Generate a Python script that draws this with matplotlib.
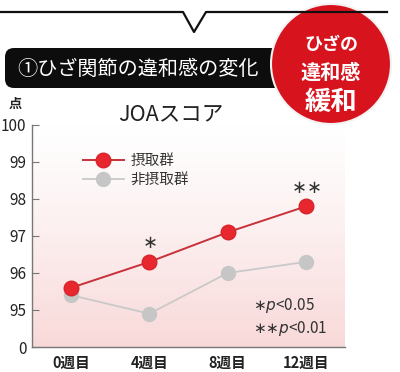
import numpy as np
import matplotlib
matplotlib.use("Agg")
import matplotlib.pyplot as plt
from matplotlib.patches import FancyBboxPatch, Circle

plt.rcParams['font.family'] = ['Noto Sans CJK JP', 'DejaVu Sans']

# ---- data ----
weeks = ["0週目", "4週目", "8週目", "12週目"]
intake = [95.6, 96.3, 97.1, 97.8]
no_intake = [95.4, 94.9, 96.0, 96.3]
ytick_vals = [0, 95, 96, 97, 98, 99, 100]
sig_marks = {1: "${\\ast}$", 3: "${\\ast}{\\ast}$"}


def brk(v):
    # broken axis: 0 sits one step below 95
    v = np.asarray(v, float)
    return np.where(v < 50, 0.0, v - 94.0)


fig = plt.figure(figsize=(4.0, 3.72), dpi=100)
ax = fig.add_axes([0.08, 0.0672, 0.7825, 0.5968])

# pink fade background
grad = np.linspace(0, 1, 256)[:, None] ** 1.2
top = np.array([1.0, 1.0, 1.0])
bot = np.array([0.975, 0.85, 0.85])
img = top + (bot - top) * grad[..., None]
ax.imshow(img, extent=[0, 1, 0, 1], transform=ax.transAxes,
          aspect="auto", zorder=0)

x = np.arange(len(weeks))
ax.plot(x, brk(no_intake), color="#c9c9c9", lw=1.3, marker="o", ms=10,
        mfc="#c6c6c6", mec="#c6c6c6", label="非摂取群", zorder=3)
ax.plot(x, brk(intake), color="#c8303a", lw=1.4, marker="o", ms=10.5,
        mfc="#e8262e", mec="#d8232b", label="摂取群", zorder=4)

for i, s in sig_marks.items():
    ax.annotate(s, (x[i], brk(intake)[i]), xytext=(0, 7),
                textcoords="offset points", ha="center", va="bottom",
                fontsize=13, color="#333333")

ax.set_xlim(-0.5, 3.5)
ax.set_ylim(0, 6)
ax.set_xticks(x, weeks)
ax.set_yticks(brk(ytick_vals), [str(v) for v in ytick_vals])
ax.tick_params(axis="y", direction="in", length=5, color="#777777",
               labelsize=11, labelcolor="#222222", pad=4)
ax.tick_params(axis="x", length=0, labelsize=10.5, labelcolor="#222222", pad=6)
for lab in ax.get_xticklabels():
    lab.set_fontweight("bold")
for sp in ["top", "right"]:
    ax.spines[sp].set_visible(False)
for sp in ["left", "bottom"]:
    ax.spines[sp].set_color("#777777")
    ax.spines[sp].set_linewidth(1.0)

leg = ax.legend(handles=ax.get_lines()[::-1], loc="upper left",
                bbox_to_anchor=(0.12, 0.93), frameon=False, fontsize=10.5,
                handlelength=2.8, handletextpad=0.5, labelspacing=0.35)
for t in leg.get_texts():
    t.set_color("#333333")

ax.text(0.705, 0.185, "${\\ast}\\mathit{p}$<0.05", transform=ax.transAxes,
        fontsize=11, color="#333333", va="center")
ax.text(0.705, 0.085, "${\\ast}{\\ast}\\mathit{p}$<0.01", transform=ax.transAxes,
        fontsize=11, color="#333333", va="center")

# ---- header overlay in pixel units ----
ov = fig.add_axes([0, 0, 1, 1], zorder=5)
ov.set_xlim(0, 400)
ov.set_ylim(372, 0)
ov.axis("off")
ov.plot([0, 183, 194, 206, 387], [12, 12, 32, 12, 12], color="#111111", lw=1.6)
ov.add_patch(FancyBboxPatch((5, 48), 280, 40,
                            boxstyle="round,pad=0,rounding_size=9",
                            fc="#0d0d0d", ec="none"))
ov.text(17, 69, "①ひざ関節の違和感の変化", color="white", fontsize=14.5,
        va="center", ha="left")
ov.add_patch(Circle((331, 64), 60, fc="#d7141d", ec="#f3f3f3", lw=1.5))
ov.text(331, 44, "ひざの", color="white", fontsize=13, fontweight="bold",
        ha="center", va="center")
ov.text(331, 72, "違和感", color="white", fontsize=14.5, fontweight="bold",
        ha="center", va="center")
ov.text(331, 102, "緩和", color="white", fontsize=19, fontweight="bold",
        ha="center", va="center")
ov.text(171, 114, "JOAスコア", color="#222222", fontsize=15.5,
        ha="center", va="center")
ov.text(15, 104, "点", color="#222222", fontsize=9.5, fontweight="bold",
        ha="center", va="center")

fig.savefig("out.png", dpi=100)
